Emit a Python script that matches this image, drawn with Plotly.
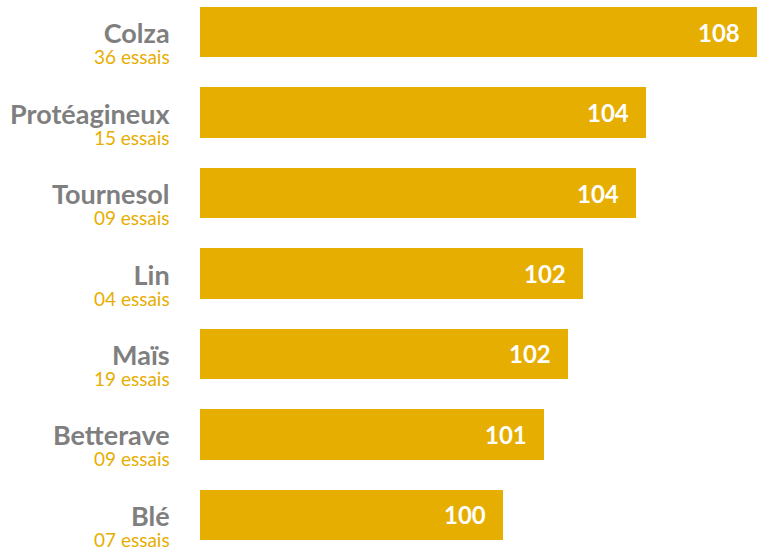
import plotly.graph_objects as go

categories = ["Blé", "Betterave", "Maïs", "Lin", "Tournesol", "Protéagineux", "Colza"]
essais = ["07 essais", "09 essais", "19 essais", "04 essais", "09 essais", "15 essais", "36 essais"]
values = [100.0, 101.28, 102.05, 102.53, 104.19, 104.5, 108.0]
value_labels = ["100", "101", "102", "102", "104", "104", "108"]
axis_start = 90.46

BAR = "#E6AE00"
GREY = "#7F7F7F"
FONT = "Lato"

fig = go.Figure()
fig.add_trace(go.Bar(
    y=categories, x=values, orientation="h",
    marker=dict(color=BAR, line=dict(width=0)),
    width=0.628, hoverinfo="skip",
))

annotations = []
for cat, ess, v, lab in zip(categories, essais, values, value_labels):
    annotations.append(dict(
        xref="paper", yref="y", x=0, y=cat, xanchor="right", yanchor="top",
        xshift=-28, yshift=18, align="right", showarrow=False,
        text=("<span style='font-size:27px;color:%s'><b>%s</b></span><br>"
              "<span style='font-size:19px;color:%s'>%s</span>") % (GREY, cat, BAR, ess),
        font=dict(family=FONT, size=16, color=GREY),
    ))
    annotations.append(dict(
        xref="x", yref="y", x=v, y=cat, xanchor="right", yanchor="middle",
        xshift=-15, text="<b>" + lab + "</b>", showarrow=False,
        font=dict(family=FONT, size=24, color="white"),
    ))

fig.update_layout(
    width=757, height=547,
    margin=dict(l=200, r=0, t=0, b=0),
    paper_bgcolor="white", plot_bgcolor="white",
    showlegend=False,
    xaxis=dict(range=[axis_start, max(values)], visible=False, fixedrange=True),
    yaxis=dict(range=[-0.40, 6.40], visible=False, fixedrange=True,
               categoryorder="array", categoryarray=categories),
    annotations=annotations,
    bargap=0,
)

fig.write_html(
    "out.html",
    config={"displayModeBar": False},
    post_script="document.body.style.margin='0';document.body.style.overflow='hidden';",
)
